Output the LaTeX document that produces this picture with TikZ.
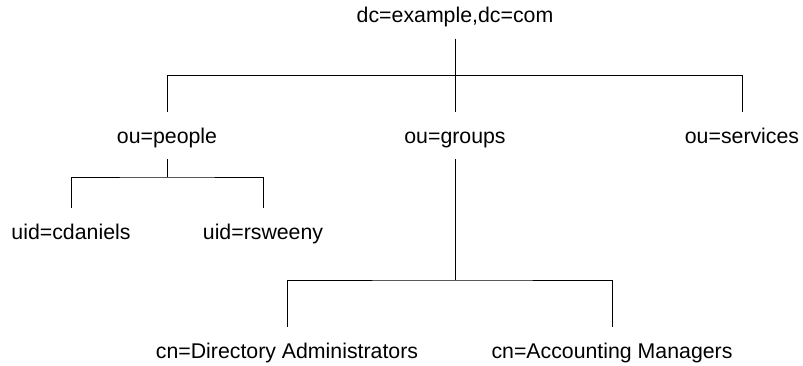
\documentclass[tikz,border=0pt]{standalone}
\usepackage{fontspec}
\setmainfont{Liberation Sans}
\begin{document}
\begin{tikzpicture}[x=1pt,y=-1pt,
  entry/.style={anchor=base, font=\fontsize{21.3}{25}\selectfont,
    inner xsep=0pt, inner ysep=0pt, text height=15.7pt, text depth=0.5pt,
    outer xsep=0pt, outer ysep=15.5pt},
  link/.style={draw=black, line width=0.9pt}]
\useasboundingbox (0,0) rectangle (803,365);

% directory entries
\node[entry] (root)     at (455,22.5) {dc=example,dc=com};
\node[entry] (people)   at (167,143)  {ou=people};
\node[entry] (groups)   at (455,143)  {ou=groups};
\node[entry] (services) at (742,143)  {ou=services};
\node[entry] (cdaniels) at (71,239)   {uid=cdaniels};
\node[entry] (rsweeny)  at (263,239)  {uid=rsweeny};
\node[entry] (diradm)   at (287,358)  {cn=Directory Administrators};
\node[entry] (accmgr)   at (612,358)  {cn=Accounting Managers};

% branch points of the tree
\coordinate (top)   at (455,75.5);
\coordinate (pbar)  at (167,177);
\coordinate (gbar)  at (455,280);

% connectors
\draw[link] (root.south) -- (groups.north);
\draw[link] (people.north) |- (top) -| (services.north);
\draw[link] (people.south) -- (pbar);
\draw[link] (cdaniels.north) |- (pbar) -| (rsweeny.north);
\draw[link] (groups.south) -- (gbar);
\draw[link] (diradm.north) |- (gbar) -| (accmgr.north);
\end{tikzpicture}
\end{document}
